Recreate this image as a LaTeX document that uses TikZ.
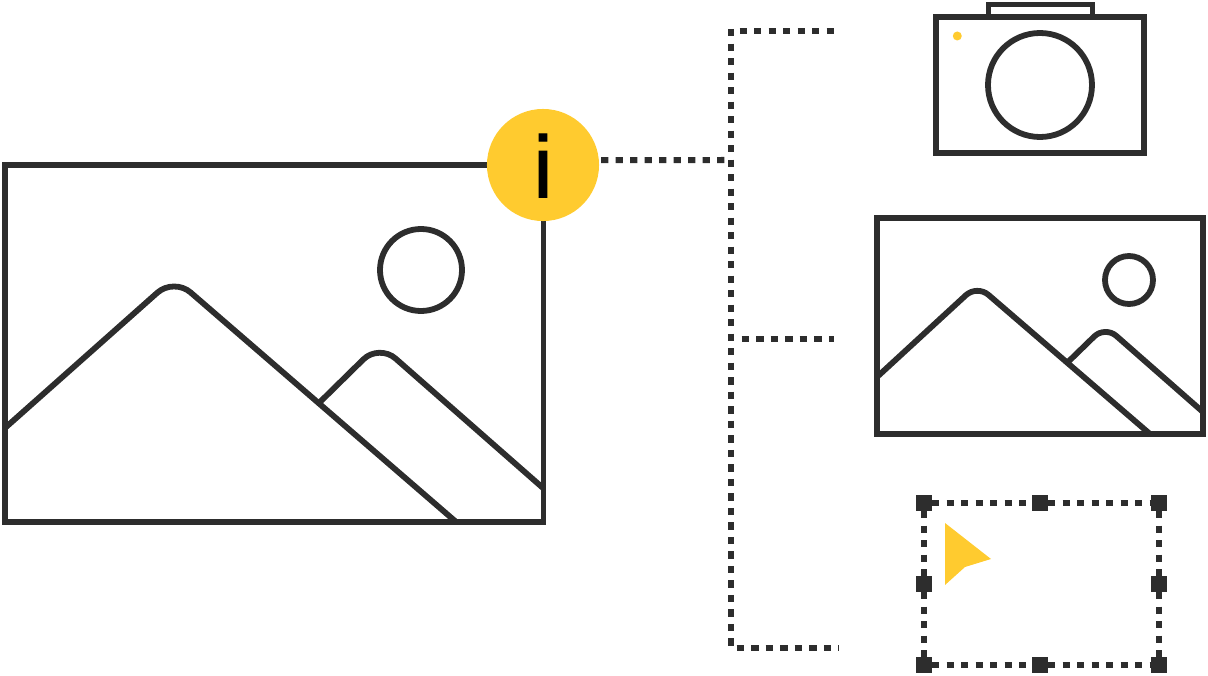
\documentclass[tikz,border=0pt]{standalone}
\usepackage{fontspec}
\setmainfont{Liberation Sans}
\newfontface\infofont{Liberation Sans}[FakeBold=1]
\definecolor{inkdark}{HTML}{2D2D2D}
\definecolor{signyellow}{HTML}{FFCB2F}
\tikzset{
   frameline/.style={draw=inkdark, line width=0.058cm, line join=miter},
   dotline/.style={draw=inkdark, line width=0.06cm, dash pattern=on 0.073cm off 0.072cm},
   handle/.style={rectangle, fill=inkdark, minimum size=0.16cm, inner sep=0pt, outer sep=0pt},
   infobadge/.style={circle, fill=signyellow, minimum size=1.12cm, inner sep=0pt, outer sep=0pt, text height=0.65cm, text depth=0pt, font=\infofont\fontsize{25}{25}\selectfont}
}

\begin{document}
\begin{tikzpicture}[x=0.01cm, y=-0.01cm]
   \useasboundingbox (0,0) rectangle (1208,676);
   % big picture
   \draw[frameline] (5,165) rectangle (543.5,522);
   \draw[frameline] (421,270) circle (41);
   \draw[frameline, rounded corners=0.22cm] (5,428) -- (173.9,278) -- (455,521);
   \draw[frameline, rounded corners=0.22cm] (319,403) -- (379,344) -- (543,488);
   % info badge and the dotted bus
   \node[infobadge] (info) at (543,165) {i};
   \coordinate (bustop) at (730.5,29);
   \coordinate (busbot) at (730.5,648);
   \coordinate (outcam) at (834,31.5);
   \coordinate (outpic) at (834,339.5);
   \coordinate (outsel) at (839,648);
   \draw[dotline] (bustop) -- (busbot);
   \draw[dotline, shorten <=0.022cm] (info.5) -- (726,160);
   \draw[dotline] (739.5,31.5) -- (outcam);
   \draw[dotline] (741.7,339.5) -- (outpic);
   \draw[dotline] (736.7,648) -- (outsel);
   % camera
   \draw[frameline, line width=0.05cm] (988,17) rectangle (1092.5,4.3);
   \draw[frameline] (936,17) rectangle (1144.3,153);
   \draw[frameline] (1040,85) circle (52);
   \fill[signyellow] (957.3,36) circle (4.5);
   % small picture
   \draw[frameline] (877,218) rectangle (1203,434);
   \draw[frameline] (1129,280) circle (24);
   \draw[frameline, rounded corners=0.15cm] (877,377) -- (977,285) -- (1150,434);
   \draw[frameline, rounded corners=0.15cm] (1068,362) -- (1105,326) -- (1203,412);
   % selection box
   \foreach \name/\px/\py in {tl/924/503, tm/1040/503, tr/1159/503, ml/924/584, mr/1159/584, bl/924/665, bm/1040/665, br/1159/665}
      \node[handle] (\name) at (\px,\py) {};
   \draw[dotline] (tl) -- (tm);
   \draw[dotline] (tm) -- (tr);
   \draw[dotline] (tl) -- (ml);
   \draw[dotline] (ml) -- (bl);
   \draw[dotline] (tr) -- (mr);
   \draw[dotline] (mr) -- (br);
   \draw[dotline] (bl) -- (bm);
   \draw[dotline] (bm) -- (br);
   \fill[signyellow] (945,523) -- (991,559) -- (965,567) -- (945,585) -- cycle;
\end{tikzpicture}
\end{document}
